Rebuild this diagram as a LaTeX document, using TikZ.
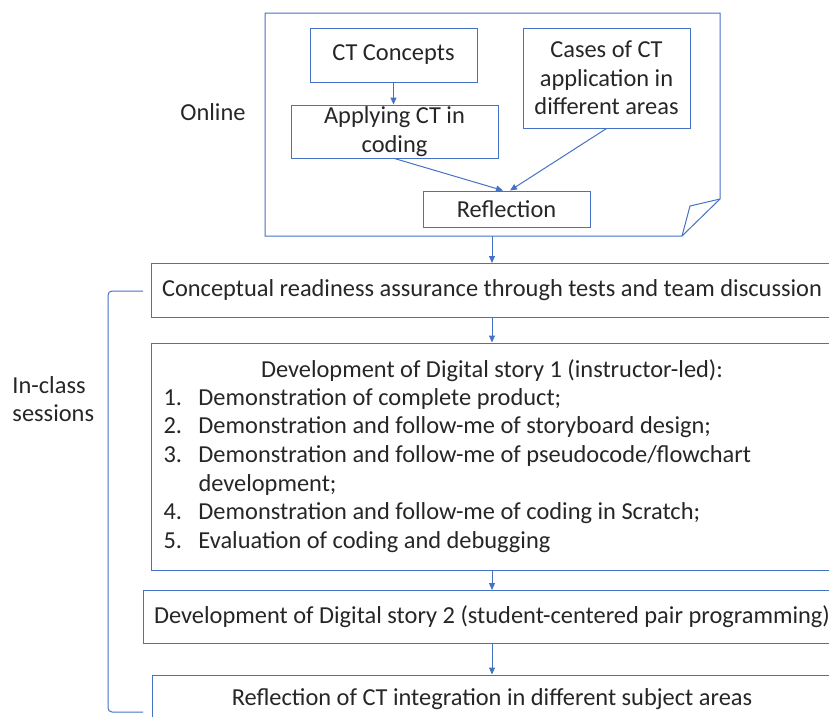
\documentclass[tikz,border=0pt]{standalone}
\usepackage{fontspec}
\setmainfont{Carlito}
\usepackage{tikz}
\usetikzlibrary{arrows.meta}
\definecolor{lineblue}{RGB}{68,114,196}
\definecolor{textgray}{RGB}{38,38,38}

\begin{document}
\begin{tikzpicture}[x=1pt, y=-1pt, -, line width=1pt, lineblue, main node/.style={rectangle, draw=lineblue, text=textgray, align=center, inner sep=0pt, font=\fontsize{24.4}{28.7}\selectfont}, label node/.style={text=textgray, inner sep=0pt, font=\fontsize{24.4}{28.7}\selectfont}, arrow/.style={-{Triangle[length=7pt,width=6pt]}}]
\useasboundingbox (0,0) rectangle (829,716);
\clip (0,0) rectangle (829,716);
% online part
\draw (265,13) -- (720,13) -- (720,199) -- (682,236) -- (265,236) -- cycle;
\draw (682,236) -- (690,206) -- (720,199);
\coordinate (0) at (492,236);
\node[label node] (9) at (213,112) {Online};
\node[main node, minimum width=167, minimum height=54] (1) at (393.5,55) {CT Concepts};
\node[main node, minimum width=207, minimum height=53] (2) at (394.5,131.5) {Applying CT in\\coding};
\node[main node, minimum width=167, minimum height=100] (3) at (606.5,78) {Cases of CT\\application in\\different areas};
\node[main node, minimum width=167, minimum height=36] (4) at (506.5,209) {Reflection};
% in-class part
\node[main node, minimum width=682, minimum height=54] (5) at (492,290.5) {Conceptual readiness assurance through tests and team discussion};
\node[main node, minimum width=682, minimum height=227] (6) at (492,456.5) {};
\node[label node, anchor=base] (6a) at (492,377) {Development of Digital story 1 (instructor-led):};
\node[label node, anchor=base west] (6b) at (163,405) {\begin{tabular}[t]{@{}p{35pt}@{}l@{}}
1. & Demonstration of complete product;\\
2. & Demonstration and follow-me of storyboard design;\\
3. & Demonstration and follow-me of pseudocode/flowchart\\
   & development;\\
4. & Demonstration and follow-me of coding in Scratch;\\
5. & Evaluation of coding and debugging
\end{tabular}};
\node[main node, minimum width=698, minimum height=53] (7) at (492,617) {Development of Digital story 2 (student-centered pair programming)};
\node[main node, minimum width=680, minimum height=48] (8) at (492,699) {Reflection of CT integration in different subject areas};
\node[label node, align=left, anchor=west] (10) at (12,399) {In-class\\sessions};
\draw[rounded corners=4pt] (143,291) -- (108,291) -- (108,712) -- (143,712);
\path[arrow]
(1.south) edge (1.south |- 2.north)
(2.south) edge ([xshift=-3.5pt]4.north)
(3.south) edge ([xshift=3.5pt]4.north)
(0) edge (5.north)
(5) edge (6)
(6) edge (7)
(7) edge (8);
\end{tikzpicture}
\end{document}
